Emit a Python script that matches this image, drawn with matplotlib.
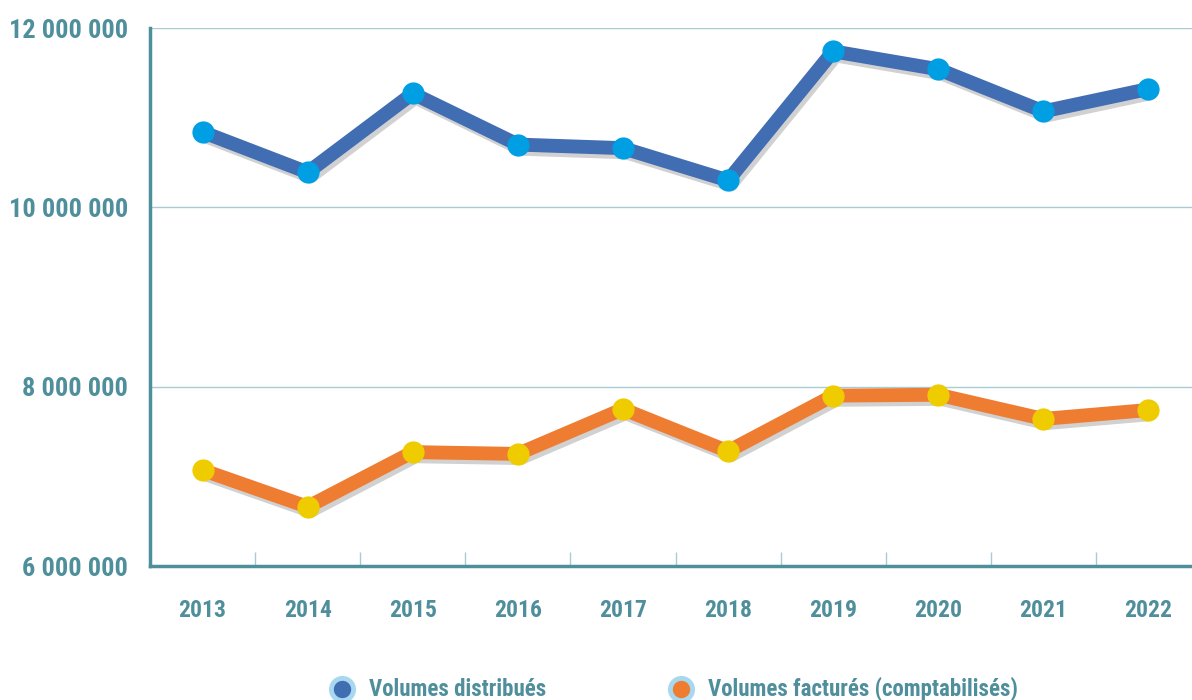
import matplotlib
matplotlib.use("Agg")
import matplotlib.pyplot as plt
import matplotlib.patheffects as pe
from matplotlib.lines import Line2D
from matplotlib.ticker import FuncFormatter, FixedLocator
import numpy as np

# data
years = ["2013", "2014", "2015", "2016", "2017", "2018", "2019", "2020", "2021", "2022"]
distribues = [10.84e6, 10.39e6, 11.27e6, 10.70e6, 10.66e6, 10.30e6, 11.74e6, 11.54e6, 11.07e6, 11.32e6]
factures = [7.07e6, 6.66e6, 7.27e6, 7.25e6, 7.75e6, 7.28e6, 7.90e6, 7.91e6, 7.64e6, 7.74e6]
labels = ["Volumes distribués", "Volumes facturés (comptabilisés)"]
leg_colors = ["#416DB3", "#EE7D31"]

teal = "#4F8F9C"
plt.rcParams['font.family'] = ['Roboto Condensed', 'Barlow Semi Condensed', 'DejaVu Sans']
plt.rcParams['font.weight'] = 'bold'

fig = plt.figure(figsize=(11.92, 7.0), dpi=100)
ax = fig.add_axes([150/1192, 134/700, 1042/1192, 538/700])

x = np.arange(len(years))
shadow = [pe.SimpleLineShadow(offset=(2, -3), shadow_color='k', alpha=0.18), pe.Normal()]

ax.plot(x, distribues, color="#416DB3", lw=10, solid_capstyle='butt', zorder=3,
        path_effects=shadow)
ax.plot(x, distribues, ls='none', marker='o', ms=16, mfc="#009FE3", mec="none", zorder=4)
ax.plot(x, factures, color="#EE7D31", lw=10, solid_capstyle='butt', zorder=3,
        path_effects=shadow)
ax.plot(x, factures, ls='none', marker='o', ms=16, mfc="#EECC00", mec="none", zorder=4)

ax.set_xlim(-0.5, -0.5 + 1042/105.1)
ax.set_ylim(6e6, 12e6)
ax.set_yticks([6e6, 8e6, 10e6, 12e6])
ax.yaxis.set_major_formatter(FuncFormatter(lambda v, p: f"{int(v):,}".replace(",", " ")))
ax.grid(axis='y', color="#A9CCD3", lw=1)
ax.set_axisbelow(True)

ax.set_xticks(x)
ax.set_xticklabels(years)
ax.xaxis.set_minor_locator(FixedLocator(np.arange(0.5, len(years) - 0.5, 1)))
ax.tick_params(axis='x', which='major', length=0, pad=24, labelsize=17, labelcolor=teal)
ax.tick_params(axis='x', which='minor', direction='in', length=10, color="#A9CCD3", width=1)
ax.tick_params(axis='y', length=0, pad=16, labelsize=19, labelcolor=teal)

for s in ['top', 'right']:
    ax.spines[s].set_visible(False)
for s in ['left', 'bottom']:
    ax.spines[s].set_color(teal)
    ax.spines[s].set_linewidth(2.5)

# legend drawn by hand at the bottom
for lx, lab, col in zip([342, 681], labels, leg_colors):
    fig.add_artist(Line2D([lx / 1192], [11 / 700], transform=fig.transFigure, ls='none',
                          marker='o', ms=16, mfc=col, mec="#A8D8F0", mew=3.5))
    fig.text((lx + 27) / 1192, 11 / 700, lab, color=teal, fontsize=16.5,
             fontweight='bold', va='center', ha='left')

fig.savefig("out.png", dpi=100)
